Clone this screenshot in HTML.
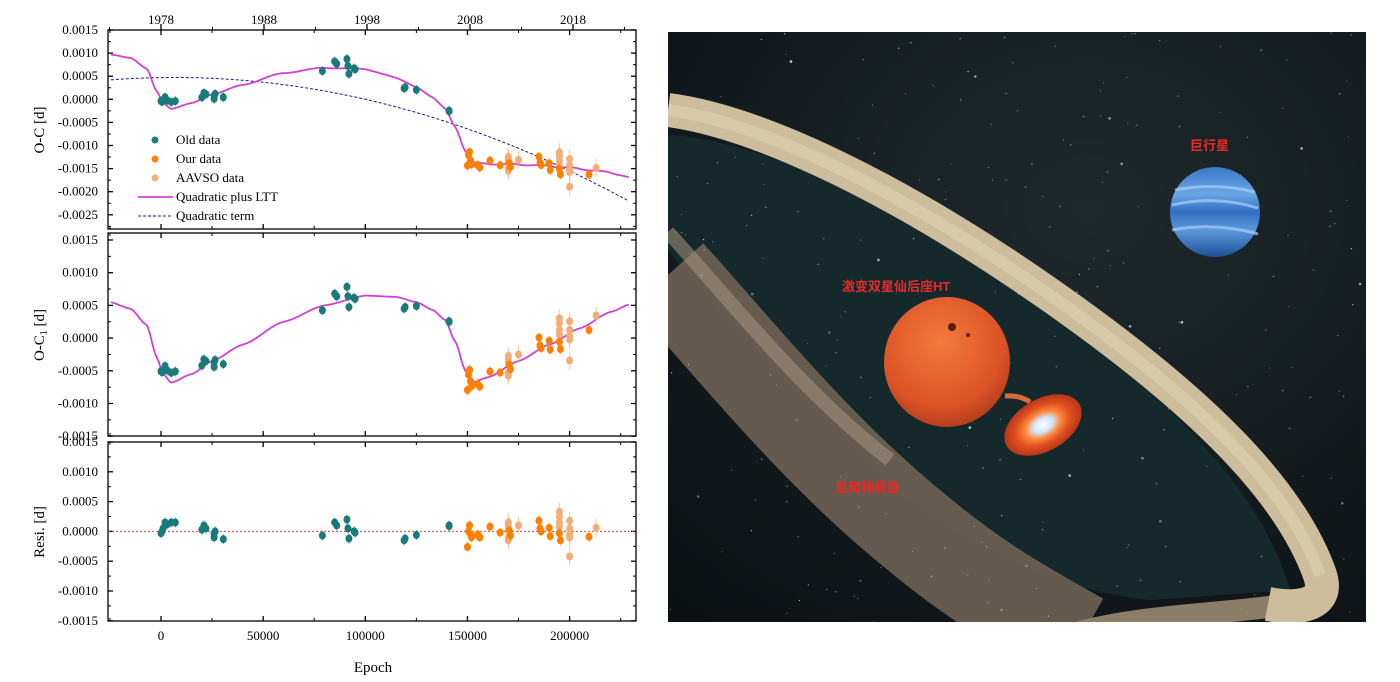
<!DOCTYPE html>
<html><head><meta charset="utf-8"><style>
html,body{margin:0;padding:0;background:#fff;width:1400px;height:682px;overflow:hidden}
svg{display:block}
</style></head><body>
<svg id="s" width="1400" height="682" xmlns="http://www.w3.org/2000/svg">
<defs>
<radialGradient id="bg" cx="0.6" cy="0.3" r="0.9"><stop offset="0" stop-color="#1f2a2d"/><stop offset="1" stop-color="#0b1013"/></radialGradient>
<radialGradient id="star" cx="0.45" cy="0.35" r="0.7"><stop offset="0" stop-color="#f27a3e"/><stop offset="0.7" stop-color="#dd5326"/><stop offset="1" stop-color="#a8391c"/></radialGradient>
<radialGradient id="disk" cx="0.5" cy="0.5" r="0.5"><stop offset="0" stop-color="#ffffff"/><stop offset="0.25" stop-color="#cfe6ff"/><stop offset="0.45" stop-color="#ff8a40"/><stop offset="0.7" stop-color="#e0501e"/><stop offset="1" stop-color="#b8361a"/></radialGradient>
<linearGradient id="plan" x1="0" y1="0" x2="0" y2="1"><stop offset="0" stop-color="#3a78c8"/><stop offset="0.3" stop-color="#6aa6e6"/><stop offset="0.5" stop-color="#2f6fc0"/><stop offset="0.7" stop-color="#5d98dc"/><stop offset="1" stop-color="#1e4f96"/></linearGradient>
<clipPath id="imgc"><rect x="668" y="32" width="698" height="590"/></clipPath>
</defs>
<g clip-path="url(#imgc)">
<rect x="668" y="32" width="698" height="590" fill="url(#bg)"/>
<path d="M668,135 C760,140 900,205 1050,310 C1180,410 1260,490 1290,590 L1150,600 C1050,590 950,540 870,470 C800,400 720,320 668,250 Z" fill="#15292c"/>
<path d="M668,275 C740,355 820,455 920,535 C980,585 1030,612 1080,640" stroke="#6e6253" stroke-width="95" fill="none" opacity="0.9"/>
<path d="M668,232 C730,300 800,390 890,460" stroke="#a89680" stroke-width="14" fill="none" opacity="0.55"/>
<path d="M1290,604 C1230,614 1150,614 1080,632" stroke="#8c7d68" stroke-width="22" fill="none"/>
<g id="stars" fill="#dfe8ea"></g>
<path d="M668,110 C760,122 900,190 1050,295 C1200,400 1290,490 1320,575 C1330,605 1300,610 1268,604" stroke="#cdbd9c" stroke-width="34" fill="none"/>
<path d="M668,110 C760,122 900,190 1050,295 C1200,400 1290,490 1320,575" stroke="#e0d2b2" stroke-width="12" fill="none" opacity="0.6"/>
<circle cx="1215" cy="212" r="45" fill="url(#plan)"/>
<path d="M1172,205 Q1215,195 1258,208 M1172,230 Q1215,222 1258,234 M1175,190 Q1215,182 1255,192" stroke="#a9cff5" stroke-width="3" fill="none" opacity="0.7"/>
<path d="M1005,396 Q1020,395 1030,402" stroke="#d96a3a" stroke-width="5" fill="none"/>
<ellipse cx="947" cy="362" rx="63" ry="65" fill="url(#star)"/>
<circle cx="952" cy="327" r="4" fill="#5a1d0c"/><circle cx="968" cy="335" r="2" fill="#6a2510"/>
<ellipse cx="1043" cy="425" rx="42" ry="26" transform="rotate(-30 1043 425)" fill="url(#disk)"/>
<text x="1190" y="150" font-family="'Liberation Sans','Noto Sans CJK SC',sans-serif" font-size="13" font-weight="bold" fill="#e62a2a">巨行星</text>
<text x="842" y="291" font-family="'Liberation Sans','Noto Sans CJK SC',sans-serif" font-size="13" font-weight="bold" fill="#e62a2a">激变双星仙后座HT</text>
<text x="835" y="492" font-family="'Liberation Sans','Noto Sans CJK SC',sans-serif" font-size="13" font-weight="bold" fill="#e62a2a">星周物质盘</text>
</g>
<g id="chart" font-family="'Liberation Serif',serif" font-size="13" fill="#000"></g>
</svg>
<script>
var NS="http://www.w3.org/2000/svg";
function el(p,t,a,txt){var e=document.createElementNS(NS,t);for(var k in a)e.setAttribute(k,a[k]);if(txt!==undefined)e.textContent=txt;p.appendChild(e);return e;}
var sg=document.getElementById('stars');var seed=7;function rnd(){seed=(seed*9301+49297)%233280;return seed/233280;}
for(var i=0;i<260;i++){el(sg,'circle',{cx:668+rnd()*698,cy:32+rnd()*590,r:(rnd()<0.9?0.6:1.3),opacity:0.3+rnd()*0.6});}
var C=document.getElementById('chart');
var X0=108,X1=636;function X(E){return 161+E*0.002043;}
var P=[{t:30,b:229,v0:0.0015,y0:30,k:23.1/0.0005},{t:233,b:436,v0:0.0015,y0:240,k:32.7/0.0005},{t:442,b:621,v0:0.0015,y0:442,k:29.8/0.0005}];
function Y(p,v){return p.y0+(p.v0-v)*p.k;}
var L=[[-25,5.5],[-15,4.5],[-7,2],[-2,-3],[1,-5.5],[5,-6.8],[15,-5.5],[25,-3.5],[40,-1],[60,2.5],[80,5],[100,6.5],[115,6.3],[125,5.5],[133,4.3],[139,2.8],[144,-0.5],[149,-5],[153,-6.7],[160,-6],[175,-3.5],[190,-1],[205,1.5],[220,4],[230,5.2]];
function ltt(E){var e=E/1000;for(var i=0;i<L.length-1;i++){if(e<=L[i+1][0]){var a=L[i],b=L[i+1],t=(e-a[0])/(b[0]-a[0]);var s=(1-Math.cos(Math.PI*t))/2;var u=t*0.5+s*0.5;return (a[1]+(b[1]-a[1])*u)*1e-4;}}return L[L.length-1][1]*1e-4;}
function q(E){var e=E/1e5;return 4.7e-4+7e-5*e-5.4e-4*e*e;}
var yt=[[0.0015,-0.0025],[0.0015,-0.0015],[0.0015,-0.0015]];
var fmt=function(v){var s=Math.abs(v).toFixed(4);return (v<-1e-9?'-':'')+s;};
P.forEach(function(p,pi){
 el(C,'rect',{x:X0,y:p.t,width:X1-X0,height:p.b-p.t,fill:'none',stroke:'#000','stroke-width':1.3});
 for(var v=yt[pi][0];v>=yt[pi][1]-1e-9;v-=0.0005){var y=Y(p,v);
  el(C,'line',{x1:X0,y1:y,x2:X0+5,y2:y,stroke:'#000','stroke-width':1.3});el(C,'line',{x1:X1,y1:y,x2:X1-5,y2:y,stroke:'#000','stroke-width':1.3});
  var ym=Y(p,v-0.00025);if(ym<p.b){el(C,'line',{x1:X0,y1:ym,x2:X0+3,y2:ym,stroke:'#000'});el(C,'line',{x1:X1,y1:ym,x2:X1-3,y2:ym,stroke:'#000'});}
  el(C,'text',{x:98,y:y+4,'text-anchor':'end'},fmt(Math.abs(v)<1e-9?0:v));}
 for(var E=0;E<=225000;E+=50000){var x=X(E);el(C,'line',{x1:x,y1:p.t,x2:x,y2:p.t+5,stroke:'#000','stroke-width':1.3});el(C,'line',{x1:x,y1:p.b,x2:x,y2:p.b-5,stroke:'#000','stroke-width':1.3});}
 for(var E=-25000;E<=225000;E+=50000){var x=X(E);if(x>X0+1){el(C,'line',{x1:x,y1:p.t,x2:x,y2:p.t+3,stroke:'#000'});el(C,'line',{x1:x,y1:p.b,x2:x,y2:p.b-3,stroke:'#000'});}}
});
var yrs=[1978,1988,1998,2008,2018];
for(var i=0;i<5;i++){var x=161+i*103;el(C,'text',{x:x,y:24,'text-anchor':'middle'},yrs[i]);el(C,'line',{x1:x,y1:30,x2:x,y2:24,stroke:'#000','stroke-width':1.3});}
for(var i=-1;i<=5;i++){var x=161+i*103+51.5;if(x>X0&&x<X1)el(C,'line',{x1:x,y1:30,x2:x,y2:27,stroke:'#000'});}
[0,50000,100000,150000,200000].forEach(function(E){el(C,'text',{x:X(E),y:640,'text-anchor':'middle'},E);});
el(C,'text',{x:373,y:672,'text-anchor':'middle','font-size':15},'Epoch');
function ylab(txt,y){var t=el(C,'text',{x:0,y:0,'text-anchor':'middle','font-size':15,transform:'translate(44,'+y+') rotate(-90)'});t.innerHTML=txt;}
ylab('O-C [d]',130);ylab('O-C<tspan font-size="10" dy="3">1</tspan><tspan dy="-3"> [d]</tspan>',335);ylab('Resi. [d]',532);
function curve(pi,f,attrs){var d='';for(var E=-24500;E<=229000;E+=500){var y=Y(P[pi],f(E));d+=(d?'L':'M')+X(E).toFixed(1)+','+y.toFixed(1);}attrs.d=d;attrs.fill='none';el(C,'path',attrs);}
curve(0,q,{stroke:'#1a1a8c','stroke-width':1,'stroke-dasharray':'3,2'});
curve(0,function(E){return ltt(E)+q(E);},{stroke:'#d23fd8','stroke-width':1.8});
curve(1,ltt,{stroke:'#d23fd8','stroke-width':1.8});
el(C,'line',{x1:X0,y1:Y(P[2],0),x2:X1,y2:Y(P[2],0),stroke:'#d94040','stroke-width':1,'stroke-dasharray':'2,2'});
var T='#1a7a7a',O='#ff8000',A='#f3ae78';
var D=[[0,-0.3,T],[0.5,0,T],[1,0.5,T],[2,1.5,T],[3,1.2,T],[5,1.5,T],[7,1.5,T],[20,0.3,T],[21,1,T],[22,0.5,T],[26,-0.3,T],[26,-1,T],[26.5,0,T],[30.5,-1.3,T],[79,-0.7,T],[85,1.5,T],[86,1,T],[91,2,T],[91.5,0.5,T],[92,-1.2,T],[94.5,0,T],[95,-0.2,T],[119,-1.5,T],[119.5,-1.2,T],[125,-0.6,T],[141,1,T],[141,0.9,T],
[170,1.5,A],[170,1,A],[170,0.5,A],[170,-1,A],[170,-1.5,A],[175,1,A],[195,3.3,A],[195,2.5,A],[195,1.5,A],[195,0.8,A],[200,1.8,A],[200,0.5,A],[200,-0.5,A],[200,-1,A],[200,-4.2,A],[213,0.6,A],
[150,-2.6,O],[150.5,0,O],[151,1,O],[151.5,-0.5,O],[152,-1,O],[155,-0.5,O],[156,-1,O],[161,0.8,O],[166,-0.2,O],[170.5,0.1,O],[171,-0.7,O],[185,1.8,O],[185.5,0.5,O],[186,0,O],[190,0.6,O],[190.5,-0.8,O],[195,-0.3,O],[195.5,-1.5,O],[209.5,-0.9,O]];
D.forEach(function(d){var E=d[0]*1000,r=d[1]*1e-4;var vals=[ltt(E)+r+q(E),ltt(E)+r,r];
 for(var pi=0;pi<3;pi++){var x=X(E),y=Y(P[pi],vals[pi]);var eb=d[2]==A?9:5;
  el(C,'line',{x1:x,y1:y-eb,x2:x,y2:y+eb,stroke:d[2],'stroke-width':1,opacity:0.7});
  el(C,'ellipse',{cx:x,cy:y,rx:3.5,ry:4,fill:d[2]});}});
var lg=[['Old data',T],['Our data',O],['AAVSO data',A]];
lg.forEach(function(l,i){var y=140+i*19;el(C,'circle',{cx:155,cy:y,r:3.5,fill:l[1]});el(C,'text',{x:176,y:y+4},l[0]);});
el(C,'line',{x1:138,y1:197,x2:173,y2:197,stroke:'#d23fd8','stroke-width':1.8});el(C,'text',{x:176,y:201},'Quadratic plus LTT');
el(C,'line',{x1:138,y1:216,x2:173,y2:216,stroke:'#1a1a8c','stroke-width':1,'stroke-dasharray':'3,2'});el(C,'text',{x:176,y:220},'Quadratic term');
</script>
</body></html>
